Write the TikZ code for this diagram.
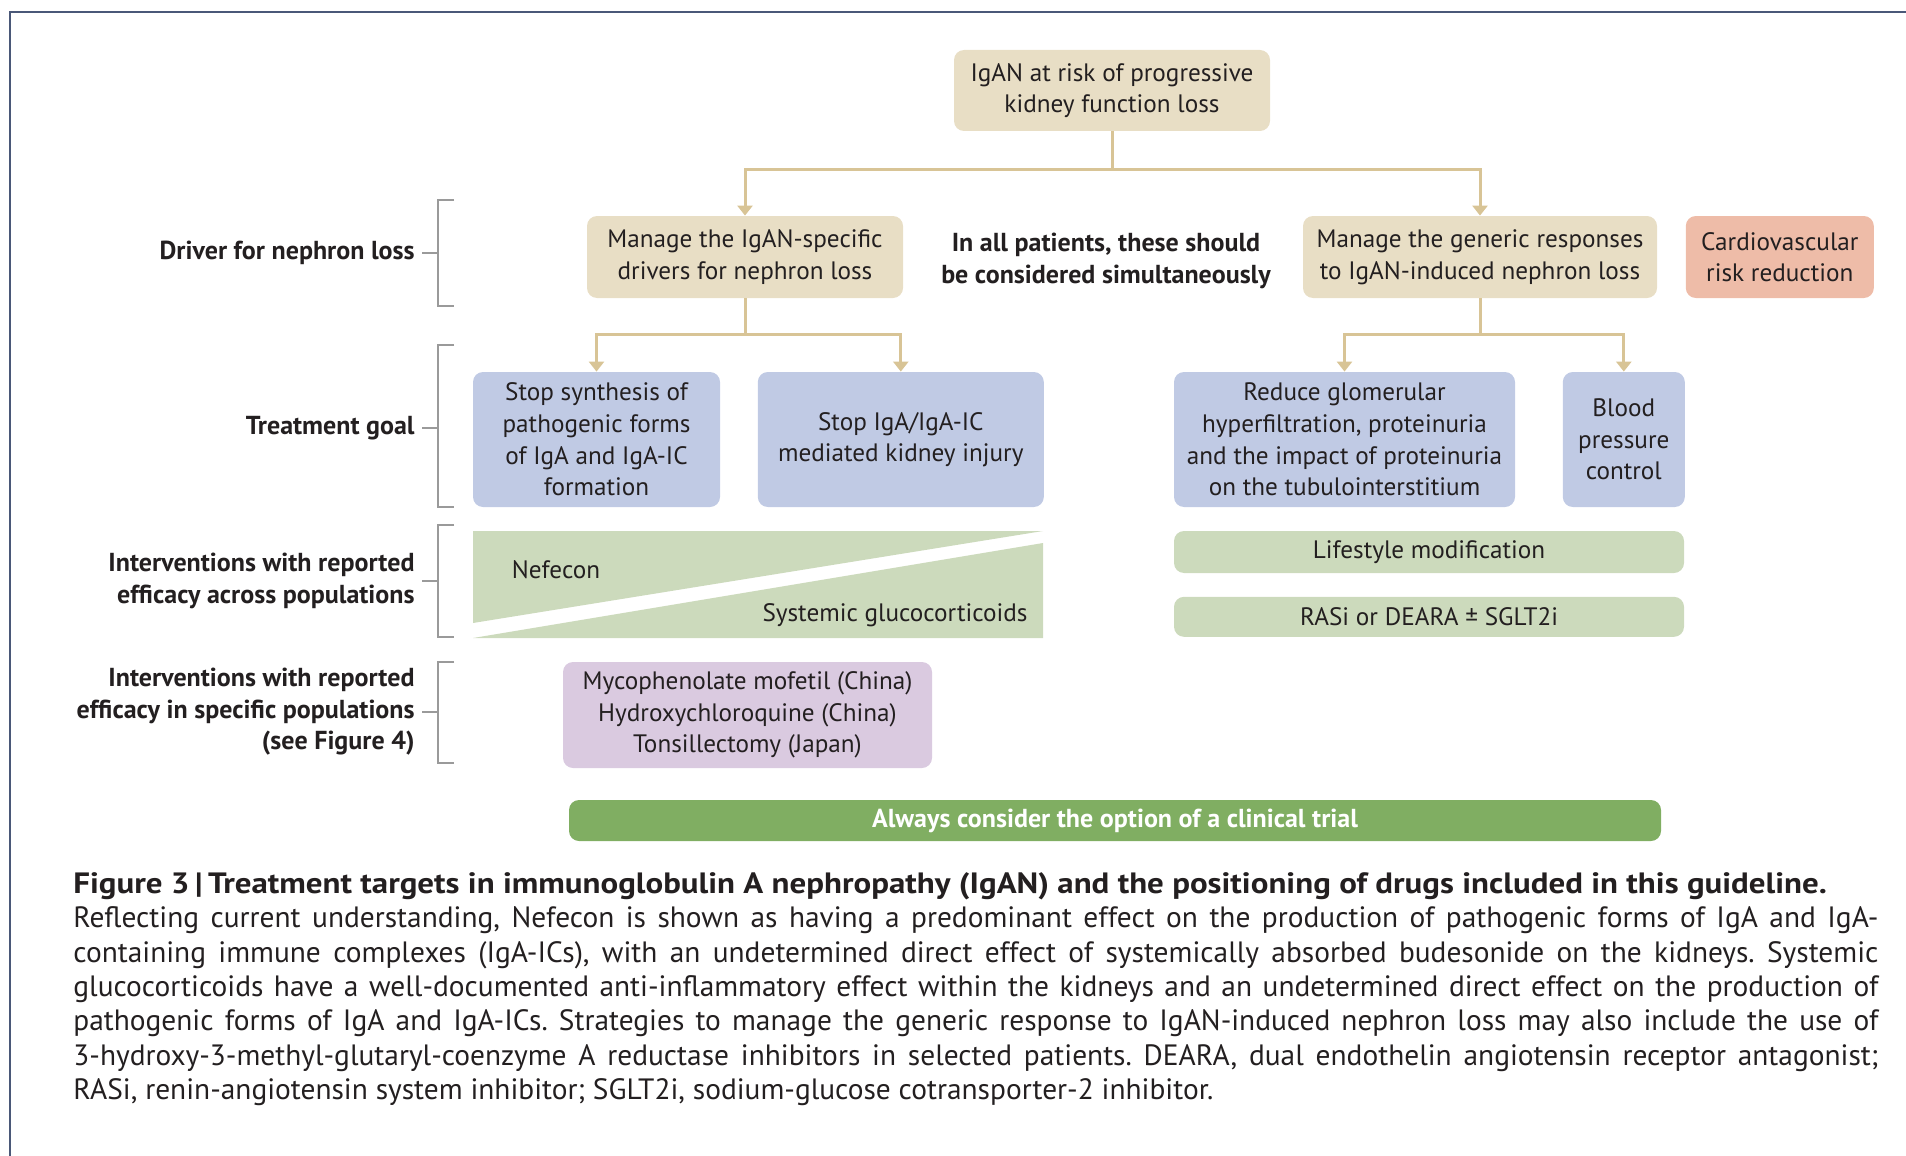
\documentclass[tikz,border=0pt]{standalone}
\usepackage{fontspec}
\setmainfont{PT Sans}
\usetikzlibrary{arrows.meta,positioning}
\definecolor{tanbox}{HTML}{E8DEC5}
\definecolor{tanline}{HTML}{D8C496}
\definecolor{bluebox}{HTML}{C0CAE4}
\definecolor{greenbox}{HTML}{CCDABC}
\definecolor{greenbar}{HTML}{80AE62}
\definecolor{salmonbox}{HTML}{EEBCA8}
\definecolor{purplebox}{HTML}{DACAE0}
\definecolor{brkgray}{HTML}{9A9A9A}
\definecolor{framec}{HTML}{4A5878}
\definecolor{ink}{HTML}{231F20}
\tikzset{
	x=0.5pt, y=-0.5pt, >={Triangle[length=5pt,width=7.5pt]},
	every node/.style={text=ink},
	box/.style={rounded corners=5pt, align=center, inner sep=0pt, font=\fontsize{12.6}{15.8}\selectfont},
	boldbox/.style={box, font=\bfseries\fontsize{13}{15.8}\selectfont},
	link/.style={draw=tanline, line width=1.5pt},
	brk/.style={draw=brkgray, line width=1.2pt},
	lab/.style={anchor=east, align=right, inner xsep=3.5pt, inner ysep=0pt, font=\bfseries\fontsize{13}{15.8}\selectfont},
}

\begin{document}
\begin{tikzpicture}
	\useasboundingbox (0,0) rectangle (1906,1156);
	\draw[framec, line width=1pt] (10,1156) -- (10,12) -- (1906,12);

	\node[box, fill=tanbox, minimum width=158pt, minimum height=40.5pt] (root) at (1112,90.5) {IgAN at risk of progressive\\kidney function loss};
	\node[box, fill=tanbox, minimum width=158pt, minimum height=41pt] (spec) at (745,257) {Manage the IgAN-specific\\drivers for nephron loss};
	\node[box, fill=tanbox, minimum width=177pt, minimum height=41pt] (gen) at (1480,257) {Manage the generic responses\\to IgAN-induced nephron loss};
	\node[box, fill=salmonbox, minimum width=94pt, minimum height=41pt, right=14pt of gen] (cvr) {Cardiovascular\\risk reduction};
	\node[boldbox] (note) at (1106,261) {In all patients, these should\\be considered simultaneously};

	\node[box, fill=bluebox, minimum width=123.5pt, minimum height=67.5pt] (goal1) at (596.5,439.5) {Stop synthesis of\\pathogenic forms\\of IgA and IgA-IC\\formation};
	\node[box, fill=bluebox, minimum width=143pt, minimum height=67.5pt, right=18.5pt of goal1] (goal2) {Stop IgA/IgA-IC\\mediated kidney injury};
	\node[box, fill=bluebox, minimum width=170.5pt, minimum height=67.5pt] (goal3) at (1344.5,439.5) {Reduce glomerular\\hyperfiltration, proteinuria\\and the impact of proteinuria\\on the tubulointerstitium};
	\node[box, fill=bluebox, minimum width=61pt, minimum height=67.5pt, right=23.5pt of goal3] (goal4) {Blood\\pressure\\control};

	\fill[greenbox] (473,531) -- (1043,531) -- (473,623) -- cycle;
	\fill[greenbox] (473,638) -- (1043,543) -- (1043,638) -- cycle;
	\node[box] (nef) at (556,570) {Nefecon};
	\node[box] (gluco) at (895,615) {Systemic glucocorticoids};

	\node[box, fill=greenbox, minimum width=255pt, minimum height=21pt] (life) at (1429,552) {Lifestyle modification};
	\node[box, fill=greenbox, minimum width=255pt, minimum height=20pt, below=11.5pt of life] (rasi) {RASi or DEARA ± SGLT2i};

	\node[box, fill=purplebox, minimum width=184.5pt, minimum height=53pt] (local) at (747.5,715) {Mycophenolate mofetil (China)\\Hydroxychloroquine (China)\\Tonsillectomy (Japan)};
	\node[boldbox, fill=greenbar, minimum width=546pt, minimum height=20.5pt, text=white] (trial) at (1115,820.5) {Always consider the option of a clinical trial};

	\coordinate (j1) at (1112,169);
	\coordinate (j2) at (745,334);
	\coordinate (j3) at (1480,334);
	\draw[link] (root) -- (j1);
	\draw[link, ->] (j1) -| (spec);
	\draw[link, ->] (j1) -| (gen);
	\draw[link] (spec) -- (j2);
	\draw[link, ->] (j2) -| (goal1);
	\draw[link, ->] (j2) -| (goal2);
	\draw[link] (gen) -- (j3);
	\draw[link, ->] (j3) -| (goal3);
	\draw[link, ->] (j3) -| (goal4);

	\node[lab] (lab1) at (422,253) {Driver for nephron loss};
	\node[lab] (lab2) at (422,428) {Treatment goal};
	\node[lab] (lab3) at (422,581) {Interventions with reported\\efficacy across populations};
	\node[lab] (lab4) at (422,712) {Interventions with reported\\efficacy in specific populations\\(see Figure 4)};
	\foreach \t/\b/\m [count=\i] in {200/306/253, 345/507/428, 525/637/581, 662/763/712} {
		\draw[brk] (454,\t) -| (438,\b) -- (454,\b);
		\draw[brk] (lab\i.east) -- (438,\m);
	}

	\node[anchor=north west, inner sep=0pt, text width=902.5pt, align=justify,
		font=\fontsize{14.7}{17.2}\selectfont] (cap) at (73,872)
		{\frenchspacing\hyphenpenalty=10000\exhyphenpenalty=10000\emergencystretch=20pt
		\scalebox{1.12}[1]{\bfseries Figure 3\,|\,Treatment targets in immunoglobulin A nephropathy (IgAN) and the positioning of drugs included in this guideline.}\\
		Reflecting current understanding, Nefecon is shown as having a predominant effect on the production of pathogenic forms of IgA and IgA-\linebreak
		containing immune complexes (IgA-ICs), with an undetermined direct effect of systemically absorbed budesonide on the kidneys. Systemic\linebreak
		glucocorticoids have a well-documented anti-inflammatory effect within the kidneys and an undetermined direct effect on the production of\linebreak
		pathogenic forms of IgA and IgA-ICs. Strategies to manage the generic response to IgAN-induced nephron loss may also include the use of\linebreak
		3-hydroxy-3-methyl-glutaryl-coenzyme A reductase inhibitors in selected patients. DEARA, dual endothelin angiotensin receptor antagonist;\linebreak
		RASi, renin-angiotensin system inhibitor; SGLT2i, sodium-glucose cotransporter-2 inhibitor.};
\end{tikzpicture}
\end{document}
